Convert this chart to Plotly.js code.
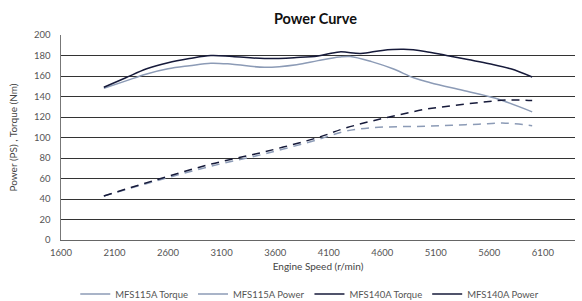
<!DOCTYPE html>
<html><head><meta charset="utf-8">
<script src="https://cdn.plot.ly/plotly-3.0.1.min.js"></script>
<style>html,body{margin:0;padding:0;background:#fff}#c{width:582px;height:301px}</style>
</head><body><div id="c"></div>
<script>
const torque140X = [2000,2200,2400,2600,2800,3000,3200,3500,3800,4000,4200,4400,4600,4800,5000,5200,5400,5600,5800,6000];
const torque140Y = [149,158,167,173,177,180,179,177,178,179.5,183.5,182,185,186,184,180,176,172,167,159];
const torque115X = [2000,2200,2400,2600,2800,3000,3200,3500,3800,4000,4200,4300,4500,4700,4900,5050,5350,5650,6000];
const torque115Y = [148,155,162,167,170,172.5,171.5,168.5,171,175,178.5,179,174,167,158,153.5,146,138.5,125];
const powerX = [2000,2500,3000,3500,4000,4250,4500,4750,5000,5250,5500,5750,6000];
const power140Y = [43,59,74,86,100,109,116,122,127.5,131,134,136.5,136];
const power115Y = [43,58,72,84,98,106,109.5,110.5,111,112,113,114,111.5];
const xTicks = [1600,2100,2600,3100,3600,4100,4600,5100,5600,6100];
const legendNames = ["MFS115A Torque","MFS115A Power","MFS140A Torque","MFS140A Power"];

const gray = "#8c9bb6", dark = "#161a3a";
const traces = [
  {x: torque115X, y: torque115Y, mode:"lines", line:{color:gray,width:1.5,shape:"spline"}, showlegend:false},
  {x: powerX, y: power115Y, mode:"lines", line:{color:gray,width:1.5,shape:"spline",dash:"8px,6px"}, showlegend:false},
  {x: torque140X, y: torque140Y, mode:"lines", line:{color:dark,width:1.5,shape:"spline"}, showlegend:false},
  {x: powerX, y: power140Y, mode:"lines", line:{color:dark,width:1.5,shape:"spline",dash:"8px,6px"}, showlegend:false}
];
const legColors = [gray, gray, dark, dark];
legendNames.forEach((n,i)=>traces.push({x:[null], y:[null], mode:"lines", name:n, line:{color:legColors[i], width:1.5}}));

const layout = {
  width:582, height:301,
  margin:{l:61, r:7, t:35, b:61, autoexpand:false},
  paper_bgcolor:"#fff", plot_bgcolor:"#fff",
  font:{family:"Lato, 'Noto Sans', sans-serif", size:9.5, color:"#555"},
  title:{text:"<b>Power Curve</b>", x:0.542, xanchor:"center", y:0.937, yanchor:"middle", font:{size:14.5, color:"#111"}},
  xaxis:{range:[1600,6400], tickvals:xTicks, ticktext:xTicks.map(String), showgrid:false, zeroline:false, automargin:false,
    showline:true, linecolor:"#666", linewidth:1, ticks:"", tickfont:{size:9.5,color:"#555"}, ticklabelstandoff:4,
    title:{text:"Engine Speed (r/min)", font:{size:10,color:"#444"}, standoff:5}},
  yaxis:{range:[0,200], dtick:20, showgrid:true, gridcolor:"#333", gridwidth:1, zeroline:false, automargin:false,
    showline:true, linecolor:"#777", linewidth:1.5, ticks:"", tickfont:{size:9.5,color:"#555"}, ticklabelstandoff:7,
    title:{text:"Power (PS) , Torque (Nm)", font:{size:10,color:"#444"}, standoff:14}},
  legend:{orientation:"h", x:0.484, xanchor:"center", y:-0.263, yanchor:"middle", font:{size:9.5,color:"#555"}, itemwidth:30, tracegroupgap:0},
  showlegend:true
};
Plotly.newPlot("c", traces, layout, {displayModeBar:false, staticPlot:true});
</script></body></html>
